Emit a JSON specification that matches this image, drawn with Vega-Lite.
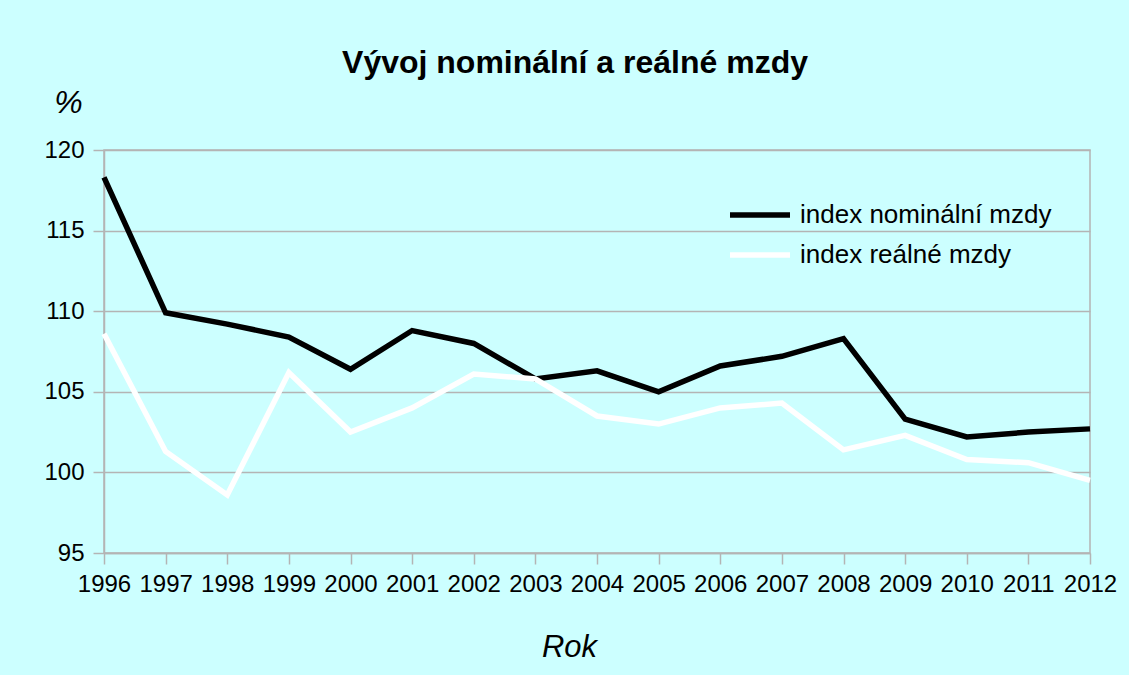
{
  "$schema": "https://vega.github.io/schema/vega-lite/v6.json",
  "autosize": {"type": "none"},
  "width": 986,
  "height": 403,
  "padding": {"left": 104, "top": 150, "right": 39, "bottom": 122},
  "background": "#CCFFFF",
  "title": {
    "text": "Vývoj nominální a reálné mzdy",
    "font": "Liberation Sans",
    "fontSize": 32,
    "fontWeight": "bold",
    "color": "#000000",
    "anchor": "middle",
    "frame": "group",
    "dx": -22,
    "offset": 6
  },
  "data": {
    "values": [
      {"year": 1996, "series": "index nominální mzdy", "value": 118.3},
      {"year": 1997, "series": "index nominální mzdy", "value": 109.9},
      {"year": 1998, "series": "index nominální mzdy", "value": 109.2},
      {"year": 1999, "series": "index nominální mzdy", "value": 108.4},
      {"year": 2000, "series": "index nominální mzdy", "value": 106.4},
      {"year": 2001, "series": "index nominální mzdy", "value": 108.8},
      {"year": 2002, "series": "index nominální mzdy", "value": 108.0},
      {"year": 2003, "series": "index nominální mzdy", "value": 105.8},
      {"year": 2004, "series": "index nominální mzdy", "value": 106.3},
      {"year": 2005, "series": "index nominální mzdy", "value": 105.0},
      {"year": 2006, "series": "index nominální mzdy", "value": 106.6},
      {"year": 2007, "series": "index nominální mzdy", "value": 107.2},
      {"year": 2008, "series": "index nominální mzdy", "value": 108.3},
      {"year": 2009, "series": "index nominální mzdy", "value": 103.3},
      {"year": 2010, "series": "index nominální mzdy", "value": 102.2},
      {"year": 2011, "series": "index nominální mzdy", "value": 102.5},
      {"year": 2012, "series": "index nominální mzdy", "value": 102.7},
      {"year": 1996, "series": "index reálné mzdy", "value": 108.6},
      {"year": 1997, "series": "index reálné mzdy", "value": 101.3},
      {"year": 1998, "series": "index reálné mzdy", "value": 98.6},
      {"year": 1999, "series": "index reálné mzdy", "value": 106.2},
      {"year": 2000, "series": "index reálné mzdy", "value": 102.5},
      {"year": 2001, "series": "index reálné mzdy", "value": 104.0},
      {"year": 2002, "series": "index reálné mzdy", "value": 106.1},
      {"year": 2003, "series": "index reálné mzdy", "value": 105.8},
      {"year": 2004, "series": "index reálné mzdy", "value": 103.5},
      {"year": 2005, "series": "index reálné mzdy", "value": 103.0},
      {"year": 2006, "series": "index reálné mzdy", "value": 104.0},
      {"year": 2007, "series": "index reálné mzdy", "value": 104.3},
      {"year": 2008, "series": "index reálné mzdy", "value": 101.4},
      {"year": 2009, "series": "index reálné mzdy", "value": 102.3},
      {"year": 2010, "series": "index reálné mzdy", "value": 100.8},
      {"year": 2011, "series": "index reálné mzdy", "value": 100.6},
      {"year": 2012, "series": "index reálné mzdy", "value": 99.5}
    ]
  },
  "mark": {"type": "line", "strokeWidth": 5.5, "strokeJoin": "miter"},
  "encoding": {
    "x": {
      "field": "year",
      "type": "quantitative",
      "scale": {"domain": [1996, 2012], "nice": false, "zero": false},
      "axis": {
        "values": [1996, 1997, 1998, 1999, 2000, 2001, 2002, 2003, 2004, 2005, 2006, 2007, 2008, 2009, 2010, 2011, 2012],
        "format": "d",
        "grid": false,
        "title": "Rok",
        "titleX": 465,
        "titleY": 103,
        "titleAlign": "center",
        "titleBaseline": "alphabetic",
        "titleFontSize": 31,
        "titleFontStyle": "italic",
        "titleFontWeight": "normal",
        "tickSize": 11,
        "labelPadding": 8,
        "labelFlush": false,
        "labelOverlap": false
      }
    },
    "y": {
      "field": "value",
      "type": "quantitative",
      "scale": {"domain": [95, 120], "nice": false, "zero": false},
      "axis": {
        "values": [95, 100, 105, 110, 115, 120],
        "title": "%",
        "titleAngle": 0,
        "titleX": -36,
        "titleY": -48,
        "titleAlign": "center",
        "titleBaseline": "middle",
        "titleFontSize": 32,
        "titleFontStyle": "italic",
        "titleFontWeight": "normal",
        "tickSize": 11,
        "labelPadding": 9
      }
    },
    "color": {
      "field": "series",
      "type": "nominal",
      "scale": {"domain": ["index nominální mzdy", "index reálné mzdy"], "range": ["#000000", "#FFFFFF"]},
      "legend": {
        "title": null,
        "orient": "none",
        "legendX": 633,
        "legendY": 42,
        "padding": 0,
        "symbolType": "M-1.5,0H1.5",
        "symbolSize": 1600,
        "symbolStrokeWidth": 5.5,
        "labelFontSize": 26,
        "labelOffset": 17,
        "labelLimit": 500,
        "rowPadding": 4,
        "labelColor": "#000000",
        "labelFont": "Liberation Sans"
      }
    }
  },
  "config": {
    "font": "Liberation Sans",
    "view": {"stroke": "#B4B4B4", "strokeWidth": 1.5},
    "axis": {
      "labelFont": "Liberation Sans",
      "labelFontSize": 24,
      "labelColor": "#000000",
      "titleFont": "Liberation Sans",
      "titleColor": "#000000",
      "domainColor": "#B4B4B4",
      "domainWidth": 1.5,
      "tickColor": "#B4B4B4",
      "tickWidth": 1.5,
      "gridColor": "#B4B4B4",
      "gridWidth": 1.5
    }
  }
}
